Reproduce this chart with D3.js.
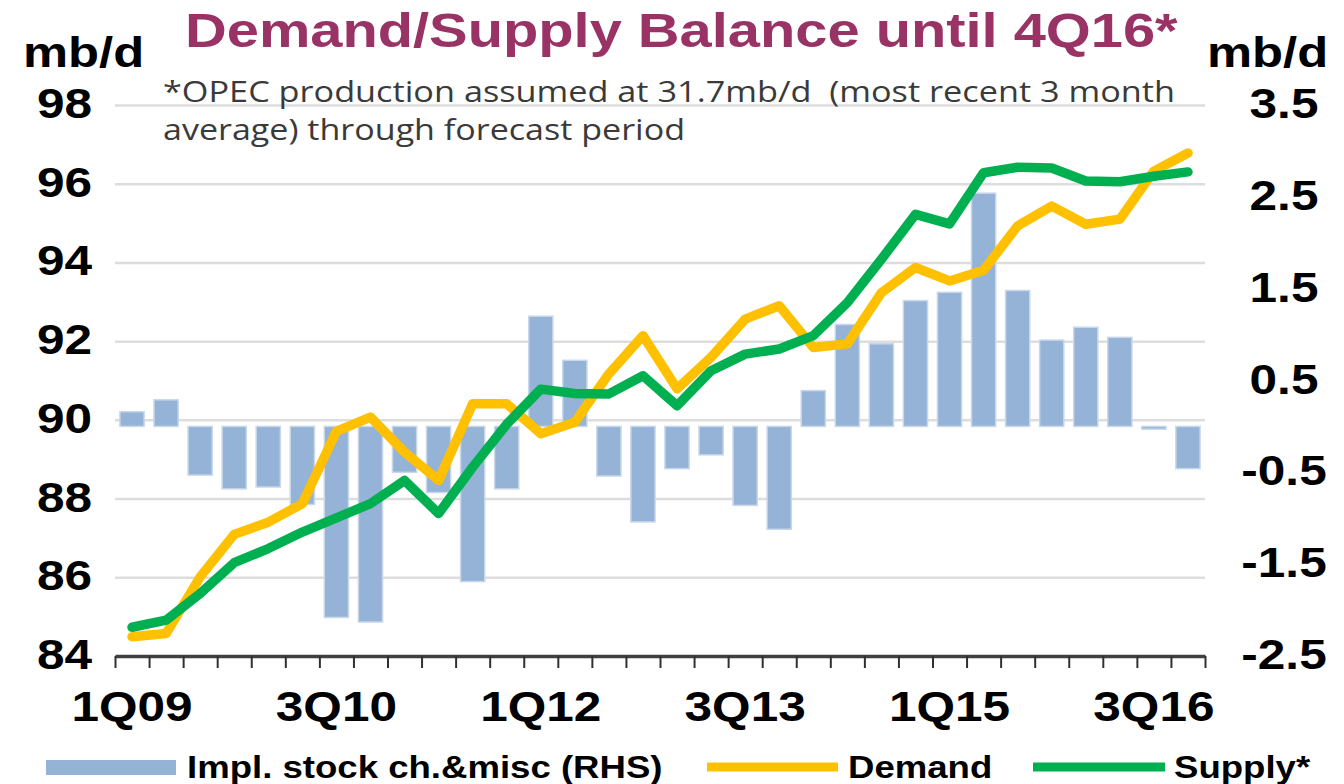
<!DOCTYPE html>
<html>
<head>
<meta charset="utf-8">
<script src="https://cdn.jsdelivr.net/npm/d3@7"></script>
<style>
  body { margin: 0; background: #fff; }
  svg { display: block; }
</style>
</head>
<body>
<svg id="chart"></svg>
<script>
// quarters 1Q09 .. 4Q16
const quarters = ['1Q09','2Q09','3Q09','4Q09','1Q10','2Q10','3Q10','4Q10',
    '1Q11','2Q11','3Q11','4Q11','1Q12','2Q12','3Q12','4Q12',
    '1Q13','2Q13','3Q13','4Q13','1Q14','2Q14','3Q14','4Q14',
    '1Q15','2Q15','3Q15','4Q15','1Q16','2Q16','3Q16','4Q16']
const demand = [84.49, 84.57, 86.01, 87.09, 87.40, 87.87, 89.71, 90.07,
    89.18, 88.46, 90.41, 90.41, 89.65, 89.94, 91.17, 92.14,
    90.79, 91.59, 92.56, 92.90, 91.84, 91.93, 93.23, 93.87,
    93.53, 93.80, 94.93, 95.43, 94.97, 95.10, 96.32, 96.78]
const supply = [84.73, 84.91, 85.59, 86.37, 86.73, 87.15, 87.51, 87.87,
    88.46, 87.62, 88.80, 89.89, 90.78, 90.67, 90.66, 91.12,
    90.36, 91.25, 91.67, 91.80, 92.14, 92.98, 94.08, 95.22,
    94.98, 96.28, 96.42, 96.40, 96.07, 96.05, 96.19, 96.30]
// implied stock change & misc (RHS)
const stockCh = [0.16, 0.29, -0.53, -0.68, -0.66, -0.85, -2.08, -2.13,
    -0.50, -0.72, -1.69, -0.68, 1.20, 0.72, -0.54, -1.04,
    -0.46, -0.31, -0.86, -1.12, 0.39, 1.11, 0.90, 1.37,
    1.46, 2.54, 1.48, 0.94, 1.08, 0.97, -0.03, -0.46]
const xLabels = ['1Q09','3Q10','1Q12','3Q13','1Q15','3Q16']
const leftTicks = [84, 86, 88, 90, 92, 94, 96, 98]
const rightTicks = [-2.5, -1.5, -0.5, 0.5, 1.5, 2.5, 3.5]

const width = 1344, height = 784
const plot = {left: 115, right: 1205, top: 105, bottom: 656}
const SX = 1.18   // the source picture is stretched sideways
const arial = 'Liberation Sans, Arial, sans-serif'

const svg = d3.select('#chart').attr('width', width).attr('height', height)

const x = d3.scaleBand().domain(quarters)
    .range([plot.left, plot.right])
    .paddingInner(0.29).paddingOuter(0.145)
const xEdge = d3.scaleLinear().domain([0, quarters.length]).range([plot.left, plot.right])
const yL = d3.scaleLinear().domain([84, 98]).range([plot.bottom, plot.top])
const yR = d3.scaleLinear().domain([-2.5, 3.5]).range([plot.bottom, plot.top])
const cx = q => x(q) + x.bandwidth() / 2

function addText(parent, str, px, py, opts) {
    return parent.append('text')
        .attr('transform', `translate(${px},${py}) scale(${SX},1)`)
        .attr('text-anchor', opts.anchor || 'start')
        .style('font-family', opts.font || arial)
        .style('font-size', opts.size + 'px')
        .style('font-weight', opts.weight || 'bold')
        .attr('fill', opts.fill || '#000')
        .text(str)
}

// gridlines
svg.append('g')
    .attr('transform', `translate(${plot.left},0)`)
    .call(d3.axisLeft(yL).tickValues(leftTicks.slice(1)).tickSize(-(plot.right - plot.left)).tickFormat(''))
    .call(g => g.select('.domain').remove())
    .selectAll('line')
    .attr('stroke', '#dddddd')
    .attr('stroke-width', 2.5)

// bars
svg.append('g')
    .selectAll('rect')
    .data(quarters)
    .join('rect')
    .attr('x', d => x(d))
    .attr('width', x.bandwidth())
    .attr('y', (d, i) => yR(Math.max(0, stockCh[i])))
    .attr('height', (d, i) => Math.abs(yR(stockCh[i]) - yR(0)))
    .attr('fill', '#95b3d7')
    .attr('stroke', '#c8d7ea')
    .attr('stroke-width', 1.5)

// x axis
const xAxis = svg.append('g')
    .attr('transform', `translate(0,${plot.bottom})`)
    .call(d3.axisBottom(xEdge).tickValues(d3.range(quarters.length + 1)).tickSize(12).tickSizeOuter(0).tickFormat(''))
xAxis.select('.domain').attr('stroke', '#404040').attr('stroke-width', 3.5)
xAxis.selectAll('.tick line').attr('stroke', '#303030').attr('stroke-width', 2)

xLabels.forEach(q => addText(svg, q, cx(q), 721, {size: 42, anchor: 'middle'}))

// left / right tick labels
leftTicks.forEach(v => addText(svg, v, 92, yL(v) + 13, {size: 42, anchor: 'end'}))
rightTicks.forEach(v => addText(svg, v.toFixed(1), 1284, yR(v) + 13, {size: 42, anchor: 'middle'}))

// lines
const lineOf = arr => d3.line()
    .x((d, i) => cx(quarters[i]))
    .y(d => yL(d))(arr)

svg.append('path')
    .attr('d', lineOf(demand))
    .attr('fill', 'none')
    .attr('stroke', '#ffc000')
    .attr('stroke-width', 9.5)
    .attr('stroke-linejoin', 'round')
    .attr('stroke-linecap', 'round')

svg.append('path')
    .attr('d', lineOf(supply))
    .attr('fill', 'none')
    .attr('stroke', '#00b050')
    .attr('stroke-width', 9.5)
    .attr('stroke-linejoin', 'round')
    .attr('stroke-linecap', 'round')

// titles
addText(svg, 'Demand/Supply Balance until 4Q16*', 185, 47, {size: 49, fill: '#993366'})
addText(svg, 'mb/d', 23, 67, {size: 43})
addText(svg, 'mb/d', 1207, 67, {size: 43})

svg.append('text')
    .attr('x', 163).attr('y', 102)
    .attr('textLength', 1012).attr('lengthAdjust', 'spacingAndGlyphs')
    .style('white-space', 'pre')
    .style('font-family', 'Open Sans, sans-serif')
    .style('font-size', '30px')
    .attr('fill', '#3a3a3a')
    .text('*OPEC production assumed at 31.7mb/d  (most recent 3 month')
svg.append('text')
    .attr('x', 163).attr('y', 140)
    .attr('textLength', 522).attr('lengthAdjust', 'spacingAndGlyphs')
    .style('font-family', 'Open Sans, sans-serif')
    .style('font-size', '30px')
    .attr('fill', '#3a3a3a')
    .text('average) through forecast period')

// legend
const legend = svg.append('g')
legend.append('rect')
    .attr('x', 46).attr('y', 760).attr('width', 130).attr('height', 15)
    .attr('fill', '#95b3d7')
addText(legend, 'Impl. stock ch.&misc (RHS)', 187, 778, {size: 31})
legend.append('line')
    .attr('x1', 707).attr('x2', 838).attr('y1', 767).attr('y2', 767)
    .attr('stroke', '#ffc000').attr('stroke-width', 9)
addText(legend, 'Demand', 848, 778, {size: 31})
legend.append('line')
    .attr('x1', 1033).attr('x2', 1165).attr('y1', 767).attr('y2', 767)
    .attr('stroke', '#00b050').attr('stroke-width', 9)
addText(legend, 'Supply*', 1174, 778, {size: 31})
</script>
</body>
</html>
